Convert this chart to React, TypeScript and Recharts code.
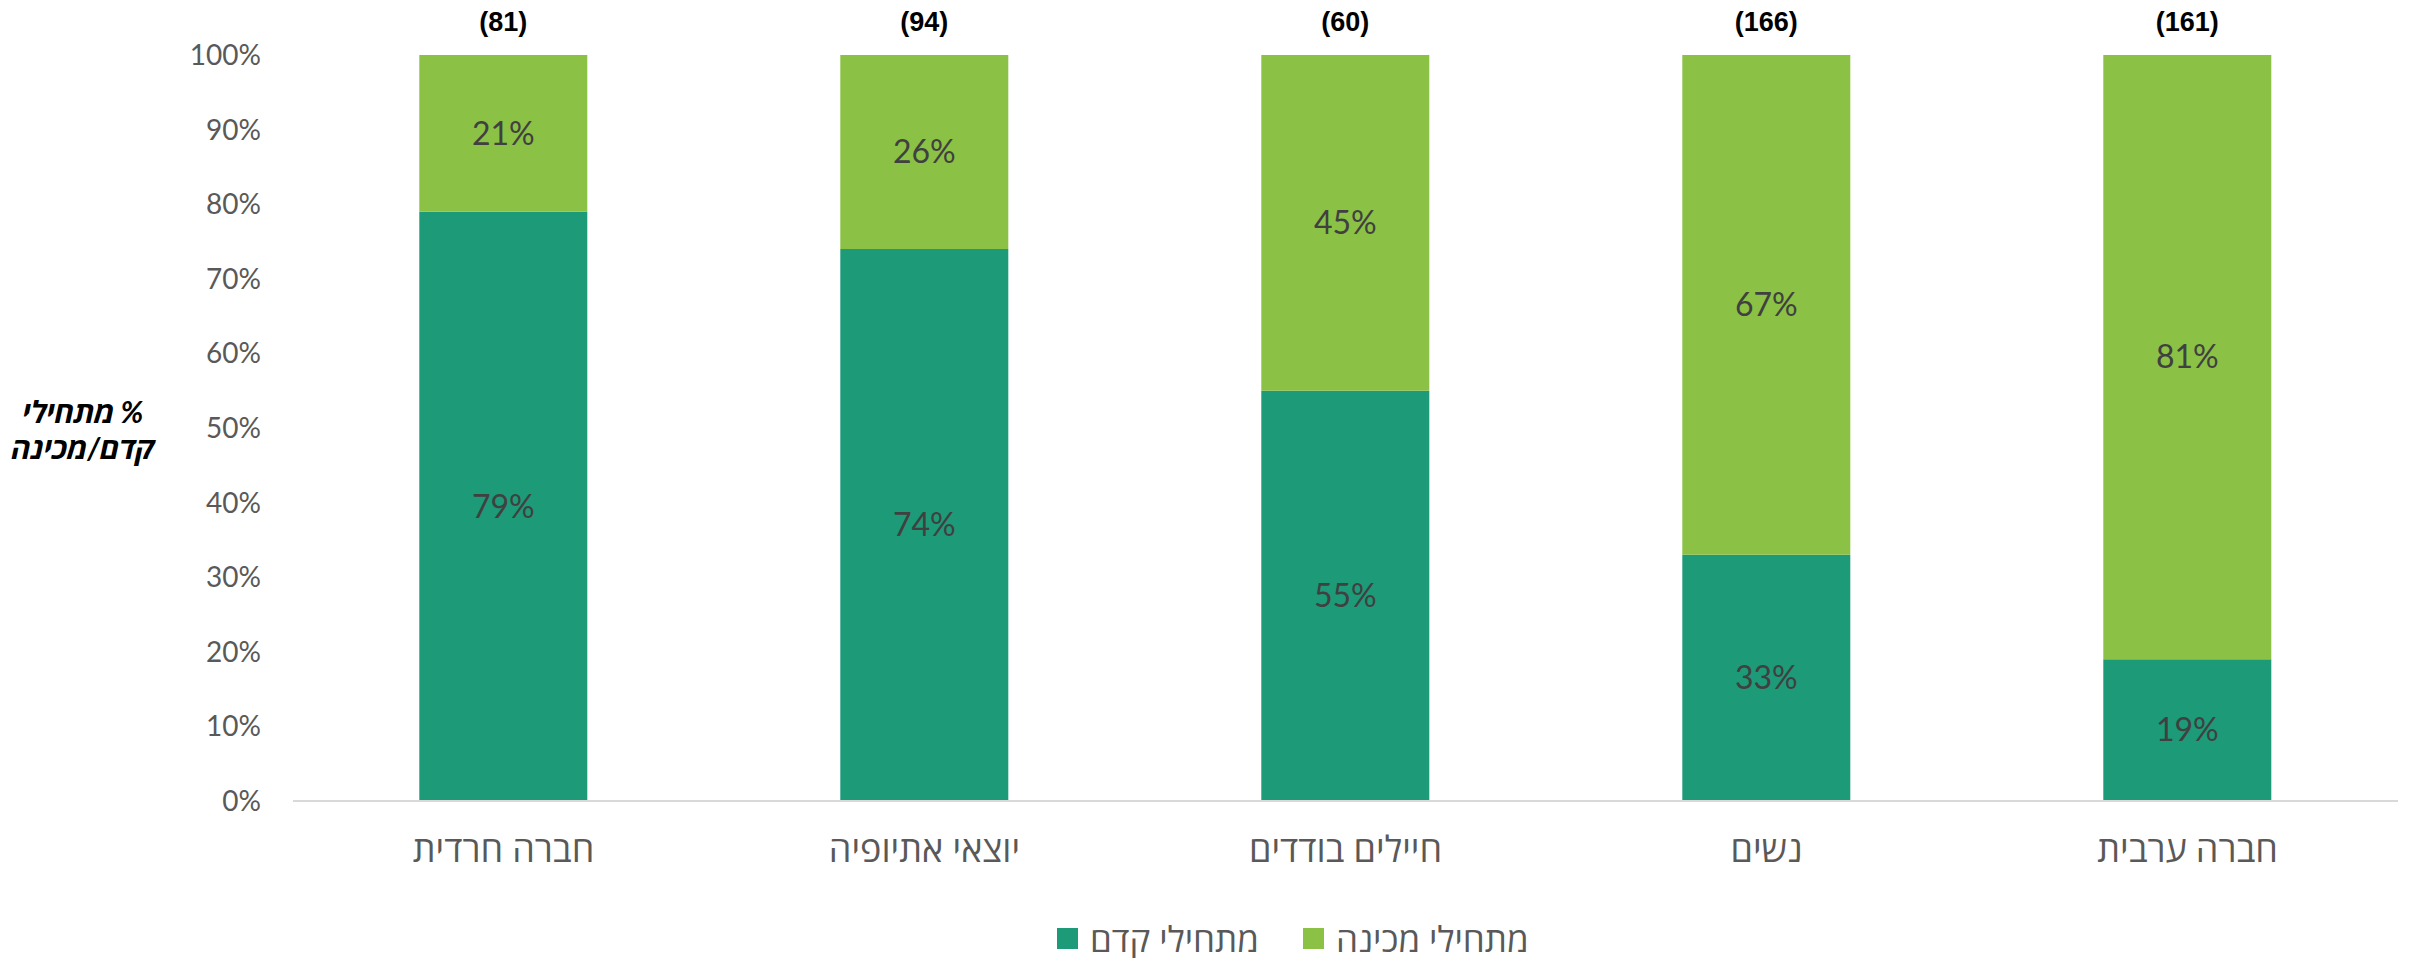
import React from 'react';
import { BarChart, Bar, XAxis, YAxis, LabelList, Legend } from 'recharts';

const categories = ['חברה חרדית', 'יוצאי אתיופיה', 'חיילים בודדים', 'נשים', 'חברה ערבית'];
const kedemValues = [79, 74, 55, 33, 19];
const mechinaValues = [21, 26, 45, 67, 81];
const counts = [81, 94, 60, 166, 161];
const yTicks = [0, 10, 20, 30, 40, 50, 60, 70, 80, 90, 100];
const seriesNames = { kedem: 'מתחילי קדם', mechina: 'מתחילי מכינה' };
const yTitleLines = ['% מתחילי', 'קדם/מכינה'];

const DARK = '#1D9A78';
const LIGHT = '#8BC145';
const FONT = "Lato, 'Open Sans', 'Noto Sans', 'DejaVu Sans', sans-serif";

const data = categories.map((c, i) => ({
  name: c,
  kedem: kedemValues[i],
  mechina: mechinaValues[i],
  n: `(${counts[i]})`,
}));

const LegendContent = () => (
  <div style={{ display: 'flex', alignItems: 'center', fontFamily: FONT, fontSize: 35, color: '#595959', lineHeight: '40px' }}>
    <div style={{ display: 'flex', alignItems: 'center', marginRight: 44 }}>
      <span style={{ display: 'inline-block', width: 21, height: 21, background: DARK, marginRight: 12 }} />
      <span>{seriesNames.kedem}</span>
    </div>
    <div style={{ display: 'flex', alignItems: 'center' }}>
      <span style={{ display: 'inline-block', width: 21, height: 21, background: LIGHT, marginRight: 12 }} />
      <span>{seriesNames.mechina}</span>
    </div>
  </div>
);

const titleStyle = { fontFamily: FONT, fontSize: 30, fontWeight: 'bold' as const, fontStyle: 'italic' as const, fill: '#000' };

const YTitle = () => (
  <g>
    <text {...titleStyle} x={75} y={415} textAnchor="middle" direction="rtl" style={{ direction: 'rtl' }}>{yTitleLines[0]}</text>
    <text {...titleStyle} x={75} y={451} textAnchor="middle" direction="rtl" style={{ direction: 'rtl' }}>{yTitleLines[1]}</text>
  </g>
);

export default function App() {
  return (
    <div style={{ width: 2400, height: 950 }}>
      <BarChart width={2400} height={950} data={data} margin={{ top: 47, right: 10, left: 0, bottom: 0 }} barCategoryGap="30%">
        <XAxis
          dataKey="name"
          axisLine={{ stroke: '#D9D9D9', strokeWidth: 2 }}
          tickLine={false}
          tickSize={0}
          tickMargin={35}
          height={117}
          interval={0}
          tick={{ fontSize: 36, fill: '#595959', fontFamily: FONT }}
        />
        <YAxis
          domain={[0, 100]}
          ticks={yTicks}
          tickFormatter={(v) => `${v}%`}
          axisLine={false}
          tickLine={false}
          tickSize={0}
          tickMargin={32}
          width={285}
          tick={{ fontSize: 28, fill: '#595959', fontFamily: FONT }}
          label={{ content: () => <YTitle /> }}
        />
        <Legend verticalAlign="bottom" content={() => <LegendContent />} wrapperStyle={{ left: 1049, width: 'auto' }} />
        <Bar dataKey="kedem" name={seriesNames.kedem} stackId="a" fill={DARK} isAnimationActive={false}>
          <LabelList dataKey="kedem" position="center" formatter={(v) => `${v}%`} fill="#404040" fontSize={32} fontFamily={FONT} />
        </Bar>
        <Bar dataKey="mechina" name={seriesNames.mechina} stackId="a" fill={LIGHT} isAnimationActive={false}>
          <LabelList dataKey="mechina" position="center" formatter={(v) => `${v}%`} fill="#404040" fontSize={32} fontFamily={FONT} />
          <LabelList dataKey="n" position="top" offset={24} fill="#000" fontSize={27} fontWeight="bold" fontFamily="'Liberation Sans', Arial, sans-serif" />
        </Bar>
      </BarChart>
    </div>
  );
}
